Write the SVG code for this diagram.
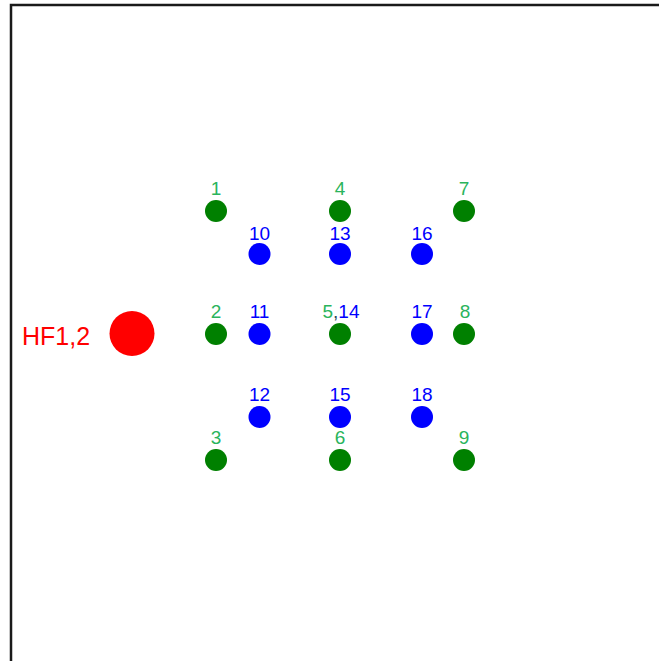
<svg xmlns="http://www.w3.org/2000/svg" width="659" height="661" viewBox="0 0 659 661">
  <style>
    .frame { fill: none; stroke: #1a1a1a; stroke-width: 2.5; }
    .lbl { font-family: "Liberation Sans", Arial, sans-serif; font-size: 19px; text-anchor: middle; }
    .g .dot { fill: #008000; }
    .g text { fill: #2ab45c; }
    .b .dot { fill: #0000ff; }
    .b text { fill: #0000ff; }
  </style>
  <rect width="659" height="661" fill="#ffffff"/>
  <!-- plot frame, open to the right and bottom -->
  <path class="frame" d="M11,661 V5 H659"/>

  <!-- heat source -->
  <g id="hf12">
    <circle cx="132" cy="333.5" r="22.5" fill="#ff0000"/>
    <text x="56" y="345" font-family="Liberation Sans, Arial, sans-serif" font-size="25" fill="#ff0000" text-anchor="middle">HF1,2</text>
  </g>

  <!-- outer sensors (green) -->
  <g id="n1" class="g"><circle class="dot" cx="216" cy="211" r="11"/><text class="lbl" x="216" y="195">1</text></g>
  <g id="n2" class="g"><circle class="dot" cx="216" cy="334" r="11"/><text class="lbl" x="216" y="318">2</text></g>
  <g id="n3" class="g"><circle class="dot" cx="216" cy="460" r="11"/><text class="lbl" x="216" y="444">3</text></g>
  <g id="n4" class="g"><circle class="dot" cx="340" cy="211" r="11"/><text class="lbl" x="340" y="195">4</text></g>
  <g id="n5" class="g"><circle class="dot" cx="340" cy="334" r="11"/></g>
  <g id="n6" class="g"><circle class="dot" cx="340" cy="460" r="11"/><text class="lbl" x="340" y="444">6</text></g>
  <g id="n7" class="g"><circle class="dot" cx="464" cy="211" r="11"/><text class="lbl" x="464" y="195">7</text></g>
  <g id="n8" class="g"><circle class="dot" cx="464" cy="334" r="11"/><text class="lbl" x="465" y="318">8</text></g>
  <g id="n9" class="g"><circle class="dot" cx="464" cy="460" r="11"/><text class="lbl" x="464" y="444">9</text></g>

  <!-- inner sensors (blue) -->
  <g id="n10" class="b"><circle class="dot" cx="259.5" cy="254" r="11"/><text class="lbl" x="259.5" y="240">10</text></g>
  <g id="n11" class="b"><circle class="dot" cx="259.5" cy="334" r="11"/><text class="lbl" x="259.5" y="318">11</text></g>
  <g id="n12" class="b"><circle class="dot" cx="259.5" cy="417" r="11"/><text class="lbl" x="259.5" y="401">12</text></g>
  <g id="n13" class="b"><circle class="dot" cx="340" cy="254" r="11"/><text class="lbl" x="340" y="240">13</text></g>
  <g id="n14" class="b">
    <text class="lbl" x="341" y="318"><tspan fill="#2ab45c">5</tspan><tspan fill="#2a4a5a">,</tspan><tspan fill="#0000ff">14</tspan></text>
  </g>
  <g id="n15" class="b"><circle class="dot" cx="340" cy="417" r="11"/><text class="lbl" x="340" y="401">15</text></g>
  <g id="n16" class="b"><circle class="dot" cx="422" cy="254" r="11"/><text class="lbl" x="422" y="240">16</text></g>
  <g id="n17" class="b"><circle class="dot" cx="422" cy="334" r="11"/><text class="lbl" x="422" y="318">17</text></g>
  <g id="n18" class="b"><circle class="dot" cx="422" cy="417" r="11"/><text class="lbl" x="422" y="401">18</text></g>

  <g id="connectors"/>
</svg>
